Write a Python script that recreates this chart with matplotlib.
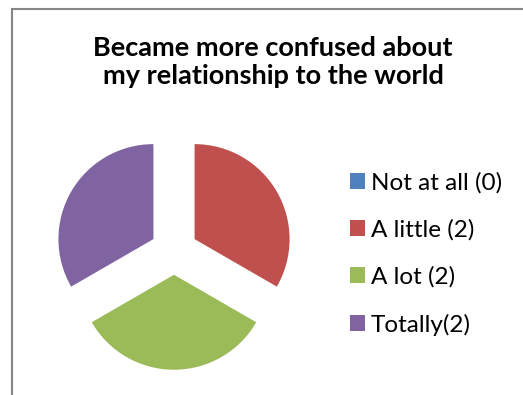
import matplotlib.pyplot as plt
import matplotlib.patches as patches

labels = ['Not at all (0)', 'A little (2)', 'A lot (2)', 'Totally(2)']
values = [0, 2, 2, 2]
colors = ['#4F81BD', '#C0504D', '#9BBB59', '#8064A2']
explode = [0, 0.25, 0.25, 0.25]
title = 'Became more confused about\nmy relationship to the world'

W, H = 523, 395
fig = plt.figure(figsize=(W / 100, H / 100), dpi=100)

# chart border (runs off the right and bottom edges)
border = patches.Rectangle((11.5 / W, -0.1), 1.2, (H - 8.5) / H + 0.1,
                           transform=fig.transFigure, fill=False,
                           edgecolor='#868686', linewidth=1.5)
fig.patches.append(border)

# pie axes: centre at (174, 251) px, radius 95 px
cx, cy, r, half = 174, 251, 95, 150
ax = fig.add_axes([(cx - half) / W, (H - cy - half) / H, 2 * half / W, 2 * half / H])
wedges, _ = ax.pie(values, colors=colors, explode=explode, startangle=90,
                   counterclock=False, radius=1)
lim = half / r
ax.set_xlim(-lim, lim)
ax.set_ylim(-lim, lim)
ax.set_aspect('equal')
ax.axis('off')

fig.text(273 / W, 1 - 62 / H, title, ha='center', va='center',
         fontsize=19.5, fontweight='bold', family='Lato', linespacing=1.25)

fig.legend(wedges, labels, loc='upper left', bbox_to_anchor=(340 / W, 1 - 162 / H),
           frameon=False, prop={'family': 'Lato', 'size': 17.5},
           handlelength=0.62, handleheight=0.62, handletextpad=0.25,
           labelspacing=1.06, borderaxespad=0)

fig.savefig('out.png', dpi=100)
